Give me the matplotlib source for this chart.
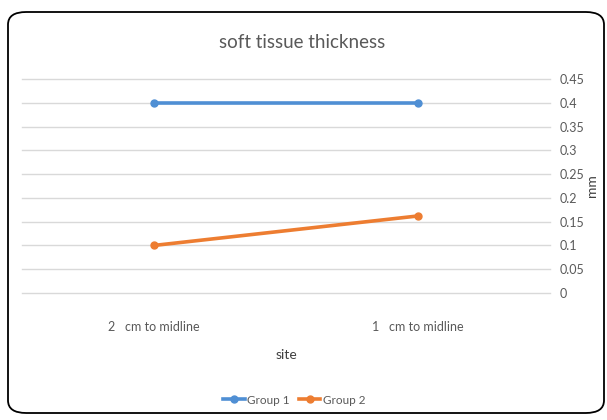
import matplotlib
matplotlib.use("Agg")
import matplotlib.pyplot as plt
from matplotlib.patches import FancyBboxPatch

sites = ["2   cm to midline", "1   cm to midline"]
group1 = [0.4, 0.4]
group2 = [0.1, 0.162]
yticks = [0, 0.05, 0.1, 0.15, 0.2, 0.25, 0.3, 0.35, 0.4, 0.45]
ytick_labels = ["0", "0.05", "0.1", "0.15", "0.2", "0.25", "0.3", "0.35", "0.4", "0.45"]

plt.rcParams['font.family'] = ['Lato', 'DejaVu Sans']
text_col = "#595959"

fig = plt.figure(figsize=(6.07, 4.2), dpi=100)
fig.patches.append(FancyBboxPatch((8 / 607, 7 / 420), 596 / 607, 401 / 420,
                                  boxstyle="round,pad=0,rounding_size=0.03",
                                  transform=fig.transFigure, facecolor="none",
                                  edgecolor="black", lw=1.3, zorder=5))

ax = fig.add_axes([22 / 607, 1 - 293 / 420, 528 / 607, 214 / 420])
ax.set_facecolor("none")
x = [0.5, 1.5]
ax.plot(x, group1, color="#4F8FD4", lw=2.6, marker="o", ms=5, label="Group 1")
ax.plot(x, group2, color="#ED7D31", lw=2.6, marker="o", ms=5, label="Group 2")

ax.set_xlim(0, 2)
ax.set_ylim(0, 0.45)
ax.set_xticks(x)
ax.set_xticklabels(sites, fontsize=9, color=text_col)
ax.set_yticks(yticks)
ax.set_yticklabels(ytick_labels, fontsize=9, color=text_col)
ax.yaxis.tick_right()
ax.yaxis.set_label_position("right")
ax.tick_params(axis="both", length=0)
ax.tick_params(axis="y", pad=7)
ax.tick_params(axis="x", pad=20)
ax.grid(axis="y", color="#d9d9d9", lw=1)
for gl in ax.get_ygridlines():
    gl.set_clip_on(False)
ax.set_axisbelow(True)
for s in ax.spines.values():
    s.set_visible(False)

ax.set_ylabel("mm", fontsize=10, color="#404040", labelpad=1)
ax.set_xlabel("site", fontsize=10, color="#404040", labelpad=12)
fig.text(0.497, 1 - 42 / 420, "soft tissue thickness", ha="center", va="center",
         fontsize=13.5, color=text_col)

fig.legend(loc="center", bbox_to_anchor=(0.485, 1 - 400 / 420), ncol=2, frameon=False,
           fontsize=8.5, labelcolor=text_col, handlelength=1.8, columnspacing=0.8,
           handletextpad=0.2)

fig.savefig("out.png", dpi=100)
